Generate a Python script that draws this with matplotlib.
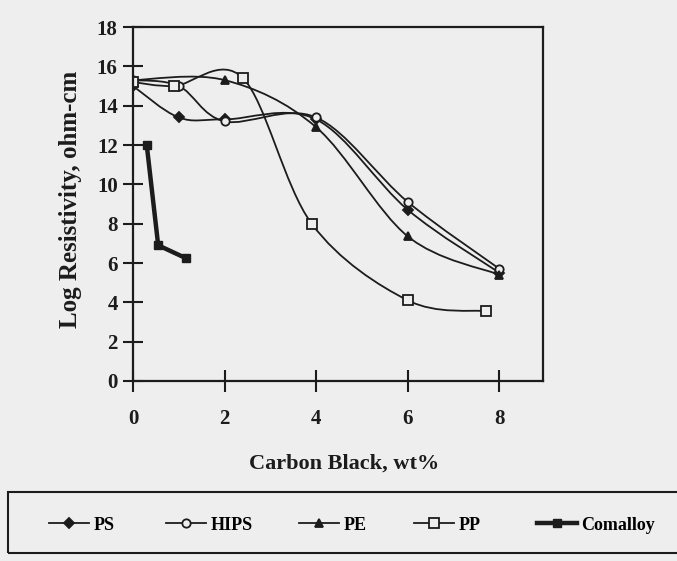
import numpy as np
import matplotlib
matplotlib.use("Agg")
import matplotlib.pyplot as plt
from matplotlib.path import Path
from matplotlib.patches import PathPatch, Rectangle
from matplotlib.lines import Line2D

# Values
ps_x = [0, 1, 2, 4, 6, 8]
ps_y = [15.0, 13.4, 13.3, 13.3, 8.7, 5.5]

hips_x = [0, 1, 2, 4, 6, 8]
hips_y = [15.3, 15.0, 13.2, 13.4, 9.1, 5.7]

pe_x = [0, 2, 4, 6, 8]
pe_y = [15.3, 15.3, 12.9, 7.35, 5.4]

pp_x = [0, 0.9, 2.4, 3.9, 6, 7.7]
pp_y = [15.2, 15.0, 15.4, 8.0, 4.1, 3.55]

com_x = [0.3, 0.55, 1.15]
com_y = [12.0, 6.9, 6.25]

labels = ["PS", "HIPS", "PE", "PP", "Comalloy"]
xticks = [0, 2, 4, 6, 8]
yticks = list(range(0, 19, 2))

ink = "#1c1c1c"
bg = "#eeeeee"
font = "Liberation Serif"


# smoothed line like the spreadsheet program draws it (Catmull-Rom Bezier)
def smooth_path(x, y):
    pts = np.column_stack([x, y]).astype(float)
    n = len(pts)
    verts = [pts[0]]
    codes = [Path.MOVETO]
    for i in range(n - 1):
        p0 = pts[max(i - 1, 0)]
        p1 = pts[i]
        p2 = pts[i + 1]
        p3 = pts[min(i + 2, n - 1)]
        verts += [p1 + (p2 - p0) / 6, p2 - (p3 - p1) / 6, p2]
        codes += [Path.CURVE4] * 3
    return Path(verts, codes)


fig = plt.figure(figsize=(6.77, 5.61), dpi=100, facecolor=bg)
ax = fig.add_axes([133 / 677, 1 - 381 / 561, 410 / 677, 354 / 561])
ax.set_facecolor(bg)

series = [
    (ps_x, ps_y, dict(marker="D", mfc=ink, ms=5)),
    (hips_x, hips_y, dict(marker="o", mfc=bg, ms=6)),
    (pe_x, pe_y, dict(marker="^", mfc=ink, ms=6)),
    (pp_x, pp_y, dict(marker="s", mfc=bg, ms=6.5)),
]
handles = []
for x, y, st in series:
    ax.add_patch(PathPatch(smooth_path(x, y), fill=False, edgecolor=ink, lw=1.3))
    ax.plot(x, y, linestyle="none", color=ink, mec=ink, mew=1.3, **st)
    handles.append(Line2D([], [], color=ink, lw=1.3, mec=ink, mew=1.3, **st))

ax.plot(com_x, com_y, color=ink, lw=3.2, marker="s", ms=6, mfc=ink, mec=ink)
handles.append(Line2D([], [], color=ink, lw=3.2, marker="s", ms=6, mfc=ink, mec=ink))

ax.set_xlim(0, 8.95)
ax.set_ylim(0, 18)
ax.set_xticks(xticks)
ax.set_yticks(yticks)
for s in ax.spines.values():
    s.set_linewidth(1.6)
    s.set_color(ink)
ax.tick_params(axis="x", direction="inout", length=16, width=1.5, pad=12, colors=ink)
ax.tick_params(axis="y", direction="inout", length=14, width=1.5, pad=4, colors=ink)
for t in ax.get_xticklabels() + ax.get_yticklabels():
    t.set_fontfamily(font)
    t.set_fontweight("bold")
    t.set_fontsize(15)

ax.set_xlabel("Carbon Black, wt%", fontfamily=font, fontweight="bold", fontsize=16, color=ink)
ax.set_ylabel("Log Resistivity, ohm-cm", fontfamily=font, fontweight="bold", fontsize=18, color=ink)
ax.xaxis.set_label_coords(0.515, -0.205)
ax.yaxis.set_label_coords(-0.125, 0.514)

# legend strip under the chart
fig.add_artist(Rectangle((8 / 677, 1 - 553 / 561), 1.0, 61 / 561, transform=fig.transFigure,
                         fill=False, edgecolor=ink, lw=1.5, clip_on=False))
starts = [40, 157, 290, 405, 528]
for h, lab, x0 in zip(handles, labels, starts):
    fig.legend(handles=[h], labels=[lab], loc="center left",
               bbox_to_anchor=(x0 / 677, 1 - 525 / 561), frameon=False,
               borderpad=0, handlelength=2.2, handletextpad=0.25,
               prop={"family": font, "weight": "bold", "size": 13})

fig.savefig("out.png", dpi=100, facecolor=bg)
